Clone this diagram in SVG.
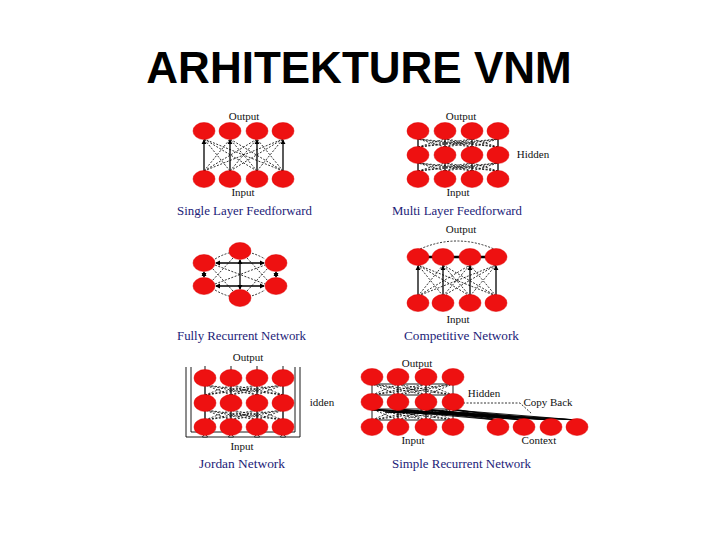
<svg xmlns="http://www.w3.org/2000/svg" width="720" height="540" viewBox="0 0 720 540">
<defs>
<marker id="ah" viewBox="0 0 6 6" refX="5" refY="3" markerWidth="4" markerHeight="4" orient="auto-start-reverse">
<path d="M0 0L6 3L0 6z" fill="#000"/>
</marker>
<style>
.n{fill:#ee1111;stroke:#dd0000;stroke-width:0.5}
.s{stroke:#000;stroke-width:1.3;fill:none}
.a{stroke:#000;stroke-width:1.3;fill:none;marker-end:url(#ah)}
.b{stroke:#000;stroke-width:1.3;fill:none;marker-end:url(#ah);marker-start:url(#ah)}
.d{stroke:#000;stroke-width:0.8;fill:none;stroke-dasharray:2 1.5}
.t{stroke:#000;stroke-width:0.9;fill:none}
.lb{font-family:"Liberation Serif","Times New Roman",serif;font-size:11px;fill:#111;text-anchor:middle}
.cap{font-family:"Liberation Serif","Times New Roman",serif;font-size:12px;fill:#1c1c78}
.title{font-family:"Liberation Sans",Arial,sans-serif;font-weight:bold;font-size:44px;fill:#000;text-anchor:middle}
</style>
</defs>
<rect width="720" height="540" fill="#fff"/>
<text class="title" x="359" y="83">ARHITEKTURE VNM</text>

<g id="connectors">
<!-- D1 single layer -->
<line class="a" x1="204" y1="171" x2="204" y2="140"/><line class="a" x1="230" y1="171" x2="230" y2="140"/><line class="a" x1="257" y1="171" x2="257" y2="140"/><line class="a" x1="283" y1="171" x2="283" y2="140"/>
<path class="d" d="M204 171L230 139M204 171L257 139M204 171L283 139M230 171L204 139M230 171L257 139M230 171L283 139M257 171L204 139M257 171L230 139M257 171L283 139M283 171L204 139M283 171L230 139M283 171L257 139"/>
<!-- D2 multi layer -->
<path class="s" d="M418 171V163M445 171V163M472 171V163M498 171V163M418 147V139M445 147V139M472 147V139M498 147V139"/>
<path class="d" d="M418 171L445 163M418 171L472 163M418 171L498 163M445 171L418 163M445 171L472 163M445 171L498 163M472 171L418 163M472 171L445 163M472 171L498 163M498 171L418 163M498 171L445 163M498 171L472 163M418 147L445 139M418 147L472 139M418 147L498 139M445 147L418 139M445 147L472 139M445 147L498 139M472 147L418 139M472 147L445 139M472 147L498 139M498 147L418 139M498 147L445 139M498 147L472 139"/>
<!-- D3 fully recurrent -->
<line class="b" x1="216" y1="263" x2="264" y2="263"/><line class="b" x1="216" y1="286" x2="264" y2="286"/><line class="b" x1="240" y1="260" x2="240" y2="289"/>
<line class="b" x1="204" y1="272" x2="204" y2="277"/><line class="b" x1="276" y1="272" x2="276" y2="277"/>
<path class="d" d="M215 265L265 284M215 284L265 265M233 258L212 281M247 258L268 281M233 291L212 268M247 291L268 268M215 259Q240 244 265 259M215 290Q240 305 265 290"/>
<!-- D4 competitive -->
<line class="a" x1="418" y1="296" x2="418" y2="266"/><line class="a" x1="443" y1="296" x2="443" y2="266"/><line class="a" x1="470" y1="296" x2="470" y2="266"/><line class="a" x1="496" y1="296" x2="496" y2="266"/>
<path class="d" d="M418 296L443 265M418 296L470 265M418 296L496 265M443 296L418 265M443 296L470 265M443 296L496 265M470 296L418 265M470 296L443 265M470 296L496 265M496 296L418 265M496 296L443 265M496 296L470 265M420 249Q457 233 494 249"/>
<path stroke="#000" stroke-width="2.5" d="M427 257H434M452 257H461M479 257H487"/>
<!-- D5 Jordan -->
<path class="t" d="M205 370V366M231 370V366M257 370V366M283 370V366M186 367V437H300V367M191 367V432H295V367"/>
<path class="s" d="M205 420V411M231 420V411M257 420V411M283 420V411M205 395V386M231 395V386M257 395V386M283 395V386"/>
<path class="d" d="M205 420L231 410M205 420L257 410M205 420L283 410M231 420L205 410M231 420L257 410M231 420L283 410M257 420L205 410M257 420L231 410M257 420L283 410M283 420L205 410M283 420L231 410M283 420L257 410M205 395L231 385M205 395L257 385M205 395L283 385M231 395L205 385M231 395L257 385M231 395L283 385M257 395L205 385M257 395L231 385M257 395L283 385M283 395L205 385M283 395L231 385M283 395L257 385"/>
<path d="M205 433L202.5 437H207.5zM231 433L228.5 437H233.5zM257 433L254.5 437H259.5zM283 433L280.5 437H285.5z" fill="#fff" stroke="#000" stroke-width="0.8"/>
<!-- D6 SRN -->
<path class="t" d="M372 384H453V395H372zM372 409H453V420H372z"/>
<path class="s" d="M398 420V409M426 420V409M398 395V384M426 395V384"/>
<path class="d" d="M372 420L398 409M372 420L426 409M372 420L453 409M398 420L372 409M398 420L426 409M398 420L453 409M426 420L372 409M426 420L398 409M426 420L453 409M453 420L372 409M453 420L398 409M453 420L426 409M372 395L398 384M372 395L426 384M372 395L453 384M398 395L372 384M398 395L426 384M398 395L453 384M426 395L372 384M426 395L398 384M426 395L453 384M453 395L372 384M453 395L398 384M453 395L426 384"/>
<path stroke="#000" stroke-width="0.9" fill="none" d="M498 420L372 409M498 420L398 409M498 420L426 409M498 420L453 409M524 420L372 409M524 420L398 409M524 420L426 409M524 420L453 409M551 420L372 410M551 420L398 410M551 420L426 410M551 420L453 410M577 420L372 410M577 420L398 410M577 420L426 410M577 420L453 410"/>
<path stroke="#000" stroke-width="1.4" fill="none" d="M385 412L470 415M410 412L500 417M440 412L530 418"/>
<path class="d" d="M463 403H520L532 414" stroke-dasharray="4 4"/>
</g>

<g id="d1">
<ellipse class="n" cx="204" cy="131" rx="11" ry="8.5"/><ellipse class="n" cx="230" cy="131" rx="11" ry="8.5"/><ellipse class="n" cx="257" cy="131" rx="11" ry="8.5"/><ellipse class="n" cx="283" cy="131" rx="11" ry="8.5"/>
<ellipse class="n" cx="204" cy="179" rx="11" ry="8.5"/><ellipse class="n" cx="230" cy="179" rx="11" ry="8.5"/><ellipse class="n" cx="257" cy="179" rx="11" ry="8.5"/><ellipse class="n" cx="283" cy="179" rx="11" ry="8.5"/>
<text class="lb" x="244" y="120">Output</text>
<text class="lb" x="243" y="196">Input</text>
<text class="cap" x="177" y="215" textLength="135" lengthAdjust="spacingAndGlyphs">Single Layer Feedforward</text>
</g>

<g id="d2">
<ellipse class="n" cx="418" cy="131" rx="11" ry="8.5"/><ellipse class="n" cx="445" cy="131" rx="11" ry="8.5"/><ellipse class="n" cx="472" cy="131" rx="11" ry="8.5"/><ellipse class="n" cx="498" cy="131" rx="11" ry="8.5"/>
<ellipse class="n" cx="418" cy="155" rx="11" ry="8.5"/><ellipse class="n" cx="445" cy="155" rx="11" ry="8.5"/><ellipse class="n" cx="472" cy="155" rx="11" ry="8.5"/><ellipse class="n" cx="498" cy="155" rx="11" ry="8.5"/>
<ellipse class="n" cx="418" cy="179" rx="11" ry="8.5"/><ellipse class="n" cx="445" cy="179" rx="11" ry="8.5"/><ellipse class="n" cx="472" cy="179" rx="11" ry="8.5"/><ellipse class="n" cx="498" cy="179" rx="11" ry="8.5"/>
<text class="lb" x="461" y="120">Output</text>
<text class="lb" x="533" y="158">Hidden</text>
<text class="lb" x="458" y="196">Input</text>
<text class="cap" x="392" y="215" textLength="130" lengthAdjust="spacingAndGlyphs">Multi Layer Feedforward</text>
</g>

<g id="d3">
<ellipse class="n" cx="240" cy="251" rx="11" ry="8.5"/>
<ellipse class="n" cx="204" cy="263" rx="11" ry="8.5"/><ellipse class="n" cx="276" cy="263" rx="11" ry="8.5"/>
<ellipse class="n" cx="204" cy="286" rx="11" ry="8.5"/><ellipse class="n" cx="276" cy="286" rx="11" ry="8.5"/>
<ellipse class="n" cx="240" cy="298" rx="11" ry="8.5"/>
<text class="cap" x="177" y="340" textLength="129" lengthAdjust="spacingAndGlyphs">Fully Recurrent Network</text>
</g>

<g id="d4">
<ellipse class="n" cx="418" cy="257" rx="11" ry="8.5"/><ellipse class="n" cx="443" cy="257" rx="11" ry="8.5"/><ellipse class="n" cx="470" cy="257" rx="11" ry="8.5"/><ellipse class="n" cx="496" cy="257" rx="11" ry="8.5"/>
<ellipse class="n" cx="418" cy="303" rx="11" ry="8.5"/><ellipse class="n" cx="443" cy="303" rx="11" ry="8.5"/><ellipse class="n" cx="470" cy="303" rx="11" ry="8.5"/><ellipse class="n" cx="496" cy="303" rx="11" ry="8.5"/>
<text class="lb" x="461" y="233">Output</text>
<text class="lb" x="458" y="323">Input</text>
<text class="cap" x="404" y="340" textLength="115" lengthAdjust="spacingAndGlyphs">Competitive Network</text>
</g>

<g id="d5">
<ellipse class="n" cx="205" cy="378" rx="11" ry="8.5"/><ellipse class="n" cx="231" cy="378" rx="11" ry="8.5"/><ellipse class="n" cx="257" cy="378" rx="11" ry="8.5"/><ellipse class="n" cx="283" cy="378" rx="11" ry="8.5"/>
<ellipse class="n" cx="205" cy="403" rx="11" ry="8.5"/><ellipse class="n" cx="231" cy="403" rx="11" ry="8.5"/><ellipse class="n" cx="257" cy="403" rx="11" ry="8.5"/><ellipse class="n" cx="283" cy="403" rx="11" ry="8.5"/>
<ellipse class="n" cx="205" cy="427" rx="11" ry="8.5"/><ellipse class="n" cx="231" cy="427" rx="11" ry="8.5"/><ellipse class="n" cx="257" cy="427" rx="11" ry="8.5"/><ellipse class="n" cx="283" cy="427" rx="11" ry="8.5"/>
<text class="lb" x="248" y="361">Output</text>
<text class="lb" x="322" y="406">idden</text>
<text class="lb" x="242" y="450">Input</text>
<text class="cap" x="199" y="468" textLength="86" lengthAdjust="spacingAndGlyphs">Jordan Network</text>
</g>

<g id="d6">
<ellipse class="n" cx="372" cy="377" rx="11" ry="8.5"/><ellipse class="n" cx="398" cy="377" rx="11" ry="8.5"/><ellipse class="n" cx="426" cy="377" rx="11" ry="8.5"/><ellipse class="n" cx="453" cy="377" rx="11" ry="8.5"/>
<ellipse class="n" cx="372" cy="402" rx="11" ry="8.5"/><ellipse class="n" cx="398" cy="402" rx="11" ry="8.5"/><ellipse class="n" cx="426" cy="402" rx="11" ry="8.5"/><ellipse class="n" cx="453" cy="402" rx="11" ry="8.5"/>
<ellipse class="n" cx="372" cy="427" rx="11" ry="8.5"/><ellipse class="n" cx="398" cy="427" rx="11" ry="8.5"/><ellipse class="n" cx="426" cy="427" rx="11" ry="8.5"/><ellipse class="n" cx="453" cy="427" rx="11" ry="8.5"/>
<ellipse class="n" cx="498" cy="427" rx="11" ry="8.5"/><ellipse class="n" cx="524" cy="427" rx="11" ry="8.5"/><ellipse class="n" cx="551" cy="427" rx="11" ry="8.5"/><ellipse class="n" cx="577" cy="427" rx="11" ry="8.5"/>
<text class="lb" x="417" y="367">Output</text>
<text class="lb" x="484" y="397">Hidden</text>
<text class="lb" x="548" y="406">Copy Back</text>
<text class="lb" x="413" y="444">Input</text>
<text class="lb" x="539" y="444">Context</text>
<text class="cap" x="392" y="468" textLength="139" lengthAdjust="spacingAndGlyphs">Simple Recurrent Network</text>
</g>
</svg>
